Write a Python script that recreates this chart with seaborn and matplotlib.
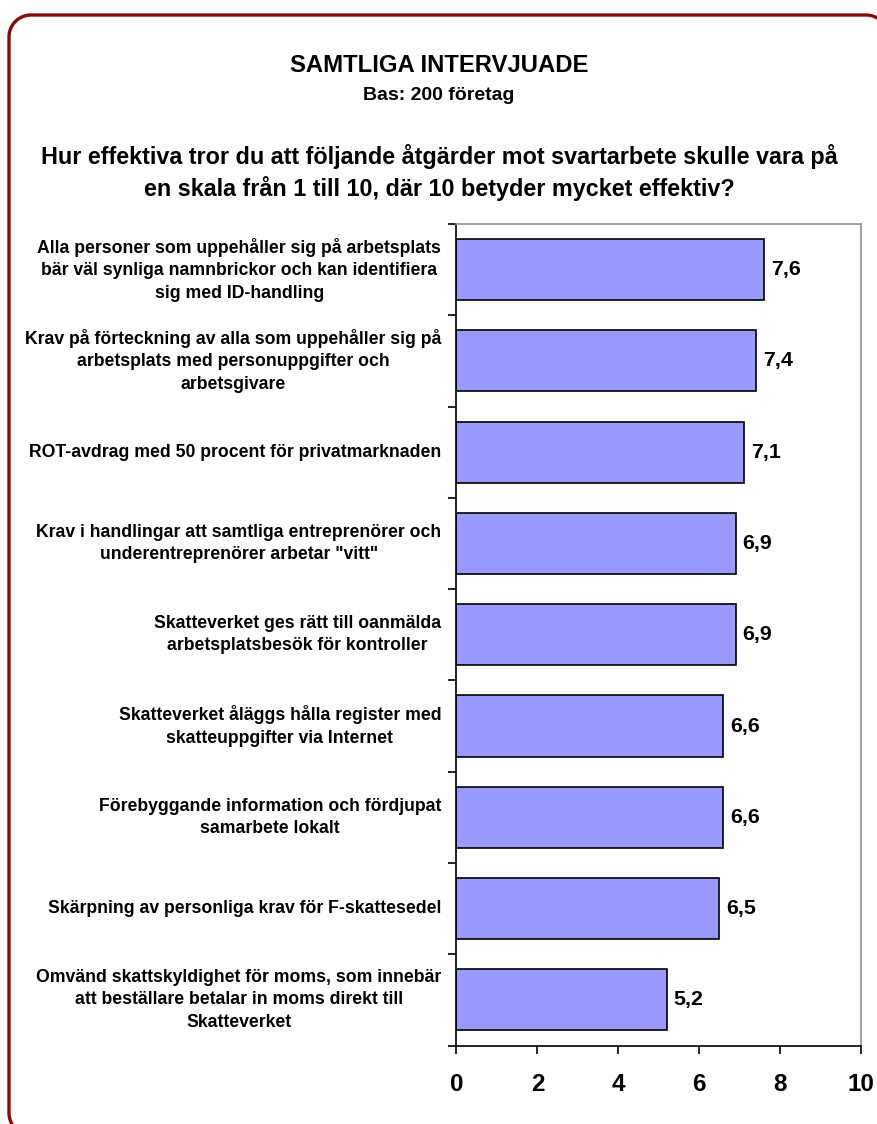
import matplotlib
matplotlib.use("Agg")
import matplotlib.pyplot as plt
import seaborn as sns
import pandas as pd
import numpy as np

# data
atgarder = [
    "Alla personer som uppehåller sig på arbetsplats\nbär väl synliga namnbrickor och kan identifiera\nsig med ID-handling",
    "Krav på förteckning av alla som uppehåller sig på\narbetsplats med personuppgifter och\narbetsgivare",
    "ROT-avdrag med 50 procent för privatmarknaden",
    "Krav i handlingar att samtliga entreprenörer och\nunderentreprenörer arbetar \"vitt\"",
    "Skatteverket ges rätt till oanmälda\narbetsplatsbesök för kontroller",
    "Skatteverket åläggs hålla register med\nskatteuppgifter via Internet",
    "Förebyggande information och fördjupat\nsamarbete lokalt",
    "Skärpning av personliga krav för F-skattesedel",
    "Omvänd skattskyldighet för moms, som innebär\natt beställare betalar in moms direkt till\nSkatteverket",
]
betyg = [7.6, 7.4, 7.1, 6.9, 6.9, 6.6, 6.6, 6.5, 5.2]
xticks = [0, 2, 4, 6, 8, 10]

titel = "SAMTLIGA INTERVJUADE"
bas = "Bas: 200 företag"
fraga = ("Hur effektiva tror du att följande åtgärder mot svartarbete skulle vara på\n"
         "en skala från 1 till 10, där 10 betyder mycket effektiv?")

df = pd.DataFrame({"atgard": atgarder, "betyg": betyg})

sns.set_style("white")
plt.rcParams['font.family'] = ['Liberation Sans', 'DejaVu Sans']
plt.rcParams['font.weight'] = 'bold'
plt.rcParams['text.color'] = 'black'
plt.rcParams['xtick.color'] = 'black'
plt.rcParams['ytick.color'] = 'black'

W, H = 878, 1124
fig = plt.figure(figsize=(W / 100, H / 100), dpi=100)

# background axes in pixel units for the rounded frame (polygon, no curves)
bg = fig.add_axes([0, 0, 1, 1])
bg.set_xlim(0, W)
bg.set_ylim(H, 0)
bg.set_axis_off()


def rundad_ram(x0, y0, x1, y1, r, n=30):
    hörn = [((x1 - r, y0 + r), -90, 0), ((x1 - r, y1 - r), 0, 90),
            ((x0 + r, y1 - r), 90, 180), ((x0 + r, y0 + r), 180, 270)]
    xs, ys = [], []
    for (cx, cy), a0, a1 in hörn:
        t = np.radians(np.linspace(a0, a1, n))
        xs.extend(cx + r * np.cos(t))
        ys.extend(cy + r * np.sin(t))
    return xs, ys


rx, ry = rundad_ram(9, 15, 888, 1135, 22)
bg.fill(rx, ry, fill=False, edgecolor="#880A0A", linewidth=2.4,
        joinstyle="round", clip_on=False)

ax = fig.add_axes([456.5 / W, 1 - 1045.5 / H, (861 - 456.5) / W, (1045.5 - 224) / H])

sns.barplot(data=df, x="betyg", y="atgard", orient="h", ax=ax,
            color="#9999FF", saturation=1, width=0.67,
            edgecolor="black", linewidth=1.2)

# value labels with decimal comma
etiketter = [f"{v:.1f}".replace(".", ",") for v in betyg]
ax.bar_label(ax.containers[0], labels=etiketter, padding=5,
             fontsize=15.4, fontweight="bold")

ax.set_xlim(0, 10)
ax.set_ylim(len(atgarder) - 0.5, -0.5)
ax.set_xticks(xticks)
ax.set_xticklabels([str(t) for t in xticks], fontsize=17.5, fontweight="bold")
ax.tick_params(axis="x", direction="out", length=6, width=1.2, pad=14,
               bottom=True, color="black")

# category boundaries as major ticks, labels on minor ticks
ax.set_yticks([i - 0.5 for i in range(len(atgarder) + 1)])
ax.set_yticklabels([])
ax.tick_params(axis="y", which="major", direction="out", length=6, width=1.2,
               left=True, color="black")
ax.set_yticks(range(len(atgarder)), minor=True)
ax.set_yticklabels(atgarder, minor=True, fontsize=12.7, fontweight="bold")
ax.tick_params(axis="y", which="minor", length=0, pad=11)
for lab in ax.get_yticklabels(minor=True):
    lab.set_multialignment("center")
    lab.set_linespacing(1.42)
    lab.set_verticalalignment("center")

ax.set_xlabel("")
ax.set_ylabel("")
for side in ["left", "bottom"]:
    ax.spines[side].set_color("black")
    ax.spines[side].set_linewidth(1.2)
for side in ["top", "right"]:
    ax.spines[side].set_color("#909090")
    ax.spines[side].set_linewidth(1.2)
    ax.spines[side].set_visible(True)

# titles
fig.text(0.5, 1 - 65 / H, titel, ha="center", va="center",
         fontsize=17.2, fontweight="bold")
fig.text(0.5, 1 - 96 / H, bas, ha="center", va="center",
         fontsize=14, fontweight="bold")
fig.text(0.5, 1 - 172.5 / H, fraga, ha="center", va="center",
         fontsize=16.8, fontweight="bold", linespacing=1.33)

fig.savefig("out.png", dpi=100)
